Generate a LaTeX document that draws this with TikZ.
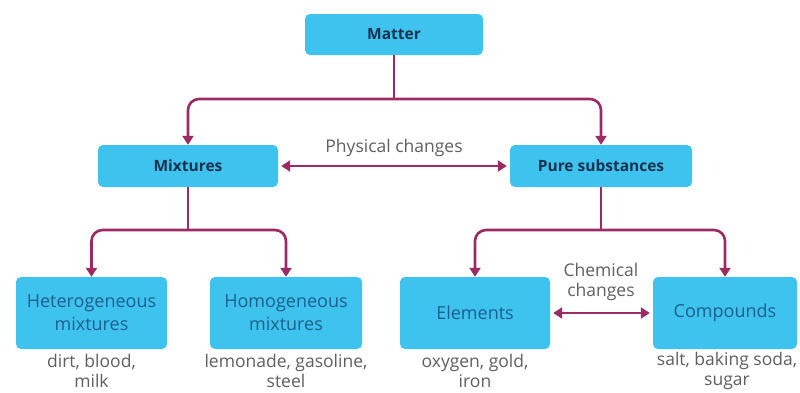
\documentclass[tikz,border=0pt]{standalone}
\usepackage{fontspec}
\setmainfont{Open Sans}
\usetikzlibrary{arrows.meta}
\definecolor{boxfill}{HTML}{3EC2EE}
\definecolor{linec}{HTML}{9C2A63}
\definecolor{darktext}{HTML}{16324F}
\definecolor{bluetext}{HTML}{1E5F8E}
\definecolor{graytext}{HTML}{606060}
\tikzset{
  topbox/.style={fill=boxfill, rounded corners=5pt, inner sep=0pt, text=darktext,
    font=\fontsize{15.5}{18}\selectfont\bfseries, align=center},
  lowbox/.style={fill=boxfill, rounded corners=5pt, inner sep=0pt, text=bluetext,
    font=\fontsize{18}{23}\selectfont, align=center, minimum height=72pt},
  stem/.style={draw=linec, line width=2.6pt},
  conn/.style={draw=linec, line width=2.6pt, rounded corners=11pt,
    -{Triangle[length=9pt,width=11pt]}},
  dbl/.style={draw=linec, line width=2.6pt,
    {Triangle[length=9pt,width=11pt]}-{Triangle[length=9pt,width=11pt]}},
  lab/.style={text=graytext, font=\fontsize{17.5}{20}\selectfont, align=center, inner sep=0pt},
}
\begin{document}
\begin{tikzpicture}[x=1pt,y=-1pt]
\useasboundingbox[fill=white] (0,0) rectangle (800,392);
\node[topbox, minimum width=178pt, minimum height=41pt] (matter) at (394,34.5) {Matter};
\node[topbox, minimum width=180pt, minimum height=42pt] (mix) at (188,166) {Mixtures};
\node[topbox, minimum width=182pt, minimum height=42pt] (pure) at (601,166) {Pure substances};
\node[lowbox, minimum width=151pt] (het) at (91.5,313) {Heterogeneous\\mixtures};
\node[lowbox, minimum width=152pt] (hom) at (286,313) {Homogeneous\\mixtures};
\node[lowbox, minimum width=150pt] (ele) at (475,313) {Elements};
\node[lowbox, minimum width=144pt] (com) at (725,313) {Compounds};

\coordinate (j1) at (394,99);
\coordinate (j2) at (188,230);
\coordinate (j3) at (601,230);

\draw[stem] (matter.south) -- (j1);
\draw[conn] (j1) -| (mix.north);
\draw[conn] (j1) -| (pure.north);
\draw[stem] (mix.south) -- (j2);
\draw[conn] (j2) -| (het.north);
\draw[conn] (j2) -| (hom.north);
\draw[stem] (pure.south) -- (j3);
\draw[conn] (j3) -| (ele.north);
\draw[conn] (j3) -| (com.north);

\draw[dbl, shorten <=3pt, shorten >=3pt] (mix.east) -- (pure.west);
\draw[dbl, shorten <=3pt, shorten >=3pt] (ele.east) -- (com.west);

\node[lab] (phys) at (394,148) {Physical changes};
\node[lab] (chem) at (601,282) {Chemical\\changes};

\node[lab] (l1) at (91.5,371) {dirt, blood,\\milk};
\node[lab] (l2) at (286,371) {lemonade, gasoline,\\steel};
\node[lab] (l3) at (475,371) {oxygen, gold,\\iron};
\node[lab] (l4) at (727,371) {salt, baking soda,\\sugar};
\end{tikzpicture}
\end{document}
